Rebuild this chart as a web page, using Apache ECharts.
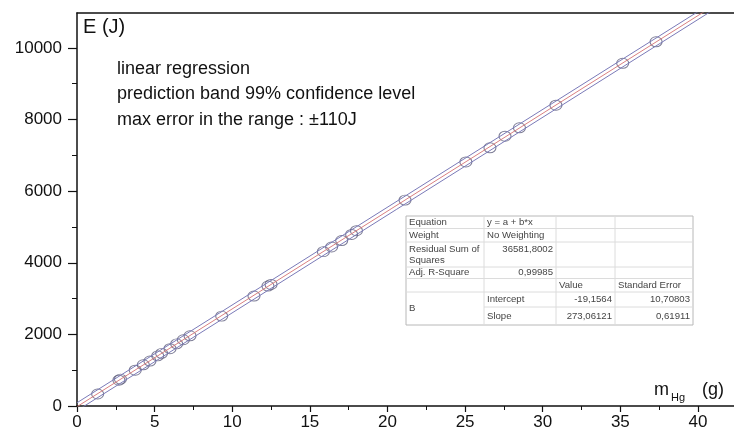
<!DOCTYPE html>
<html>
<head>
<meta charset="utf-8">
<script src="https://cdn.jsdelivr.net/npm/echarts@6/dist/echarts.min.js"></script>
<style>
  html, body { margin: 0; padding: 0; background: #fff; }
  #chart { width: 734px; height: 432px; }
</style>
</head>
<body>
<div id="chart"></div>
<script>
// Measured samples: mercury mass (g) and energy (J)
const massG = [1.33, 2.70, 2.80, 3.75, 4.27, 4.70, 5.20, 5.45, 5.99, 6.42, 6.85, 7.28,
  9.32, 11.40, 12.30, 12.50, 15.87, 16.40, 17.05, 17.69, 18.00, 21.13,
  25.05, 26.60, 27.57, 28.50, 30.85, 35.15, 37.30];
const energyJ = [335, 720, 750, 1000, 1150, 1255, 1400, 1470, 1600, 1735, 1850, 1960,
  2510, 3070, 3350, 3395, 4310, 4440, 4620, 4790, 4895, 5750,
  6815, 7210, 7535, 7770, 8400, 9570, 10170];

// Linear fit y = a + b*x and the prediction band half-width
const fitIntercept = -19.1564;
const fitSlope = 273.06121;
const bandHalfWidth = 110;

// Axis ranges and tick values
const xMax = 42.32;
const yMax = 10975;
const xMajorTicks = [0, 5, 10, 15, 20, 25, 30, 35, 40];
const xMinorTicks = [2.5, 7.5, 12.5, 17.5, 22.5, 27.5, 32.5, 37.5];
const yMajorTicks = [0, 2000, 4000, 6000, 8000, 10000];
const yMinorTicks = [1000, 3000, 5000, 7000, 9000];

// Fit statistics table (Origin style report)
const statLabels = ['Equation', 'Weight', 'Residual Sum of\nSquares', 'Adj. R-Square'];
const statValues = ['y = a + b*x', 'No Weighting', '36581,8002', '0,99985'];
const paramHeaders = ['Value', 'Standard Error'];
const paramNames = ['Intercept', 'Slope'];
const paramValues = [fitIntercept, fitSlope];
const paramErrors = ['10,70803', '0,61911'];

const FONT = 'Liberation Sans, Arial, sans-serif';
const fmtComma = v => String(v).replace('.', ',');

const pts = massG.map((x, i) => [x, energyJ[i]]);
const lineAt = (x, off) => [x, fitIntercept + fitSlope * x + off];
const fitLine = [lineAt(0, 0), lineAt(xMax, 0)];
const upperBand = [lineAt(0, bandHalfWidth), lineAt(xMax, bandHalfWidth)];
const lowerBand = [lineAt(0, -bandHalfWidth), lineAt(xMax, -bandHalfWidth)];

// ---- table graphic ----
const tbl = { cols: [406, 484, 556, 615, 693], rows: [216, 228.5, 242, 267, 278.5, 292, 307, 325] };
const tblEls = [];
tblEls.push({ type: 'rect', shape: { x: tbl.cols[0], y: tbl.rows[0], width: tbl.cols[4] - tbl.cols[0], height: tbl.rows[7] - tbl.rows[0] },
  style: { fill: '#fff', stroke: '#b8b8b8', lineWidth: 1 } });
for (let r = 1; r < tbl.rows.length - 1; r++) {
  const y = tbl.rows[r];
  const startX = (r === 6) ? tbl.cols[1] : tbl.cols[0];
  tblEls.push({ type: 'line', shape: { x1: startX, y1: y, x2: tbl.cols[4], y2: y }, style: { stroke: '#dcdcdc', lineWidth: 1 } });
}
for (let c = 1; c < tbl.cols.length - 1; c++) {
  const x = tbl.cols[c];
  tblEls.push({ type: 'line', shape: { x1: x, y1: tbl.rows[0], x2: x, y2: tbl.rows[7] }, style: { stroke: '#dcdcdc', lineWidth: 1 } });
}
const cellText = (text, x, y, align, vAlign) => ({
  type: 'text', x: x, y: y,
  style: { text: text, font: '9.6px ' + FONT, fill: '#454545', align: align || 'left', verticalAlign: vAlign || 'middle', lineHeight: 11 }
});
const midRow = r => (tbl.rows[r] + tbl.rows[r + 1]) / 2;
statLabels.forEach((t, i) => {
  if (i === 2) tblEls.push(cellText(t, tbl.cols[0] + 3, tbl.rows[2] + 2, 'left', 'top'));
  else tblEls.push(cellText(t, tbl.cols[0] + 3, midRow(i)));
});
statValues.forEach((t, i) => {
  if (i < 2) tblEls.push(cellText(t, tbl.cols[1] + 3, midRow(i)));
  else if (i === 2) tblEls.push(cellText(t, tbl.cols[2] - 3, tbl.rows[2] + 2, 'right', 'top'));
  else tblEls.push(cellText(t, tbl.cols[2] - 3, midRow(i), 'right'));
});
paramHeaders.forEach((t, i) => tblEls.push(cellText(t, tbl.cols[2 + i] + 3, midRow(4))));
tblEls.push(cellText('B', tbl.cols[0] + 3, (tbl.rows[5] + tbl.rows[7]) / 2));
paramNames.forEach((t, i) => {
  tblEls.push(cellText(t, tbl.cols[1] + 3, midRow(5 + i)));
  tblEls.push(cellText(fmtComma(paramValues[i]), tbl.cols[3] - 3, midRow(5 + i), 'right'));
  tblEls.push(cellText(paramErrors[i], tbl.cols[4] - 3, midRow(5 + i), 'right'));
});

const plainNum = v => String(Math.round(v));

const chart = echarts.init(document.getElementById('chart'), null, { renderer: 'canvas' });
chart.setOption({
  animation: false,
  backgroundColor: '#fff',
  grid: { left: 77, right: 0, top: 13, bottom: 26, outerBoundsMode: 'none' },
  xAxis: [
    {
      type: 'value', min: 0, max: xMax, position: 'bottom',
      axisLine: { show: true, lineStyle: { color: '#111', width: 1.5 } },
      axisTick: { show: true, length: 6, lineStyle: { color: '#111', width: 1.2 }, customValues: xMajorTicks },
      axisLabel: { customValues: xMajorTicks, formatter: plainNum, fontSize: 17, fontFamily: FONT, color: '#111', margin: 8 },
      splitLine: { show: false }
    },
    {
      type: 'value', min: 0, max: xMax, position: 'bottom',
      axisLine: { show: false },
      axisTick: { show: true, length: 4, lineStyle: { color: '#111', width: 1 }, customValues: xMinorTicks },
      axisLabel: { show: false },
      splitLine: { show: false }
    },
    {
      type: 'value', min: 0, max: xMax, position: 'top',
      axisLine: { show: true, lineStyle: { color: '#111', width: 1.5 } },
      axisTick: { show: false }, axisLabel: { show: false }, splitLine: { show: false }
    }
  ],
  yAxis: [
    {
      type: 'value', min: 0, max: yMax, position: 'left',
      axisLine: { show: true, lineStyle: { color: '#111', width: 1.5 } },
      axisTick: { show: true, length: 9, lineStyle: { color: '#111', width: 1.2 }, customValues: yMajorTicks },
      axisLabel: { customValues: yMajorTicks, formatter: plainNum, fontSize: 17, fontFamily: FONT, color: '#111', margin: 15 },
      splitLine: { show: false }
    },
    {
      type: 'value', min: 0, max: yMax, position: 'left',
      axisLine: { show: false },
      axisTick: { show: true, length: 5, lineStyle: { color: '#111', width: 1 }, customValues: yMinorTicks },
      axisLabel: { show: false },
      splitLine: { show: false }
    }
  ],
  series: [
    {
      name: 'upper prediction', type: 'line', data: upperBand, showSymbol: false, clip: true,
      lineStyle: { color: '#7a7ab8', width: 1 }, silent: true
    },
    {
      name: 'lower prediction', type: 'line', data: lowerBand, showSymbol: false, clip: true,
      lineStyle: { color: '#7a7ab8', width: 1 }, silent: true
    },
    {
      name: 'linear fit', type: 'line', data: fitLine, showSymbol: false, clip: true,
      lineStyle: { color: '#d98080', width: 1 }, silent: true
    },
    {
      name: 'E', type: 'scatter', data: pts, symbol: 'circle', symbolSize: [12, 10],
      itemStyle: { color: 'rgba(0,0,0,0)', borderColor: '#5c5c7c', borderWidth: 1 }
    }
  ],
  graphic: [
    { type: 'text', left: 83, top: 17, style: { text: 'E (J)', font: '20px ' + FONT, fill: '#111' } },
    { type: 'text', left: 117, top: 56, style: {
        text: 'linear regression\nprediction band 99% confidence level\nmax error in the range : \u00b1110J',
        font: '18px ' + FONT, fill: '#111', lineHeight: 25.5 } },
    { type: 'text', x: 654, y: 399, style: { text: 'm', font: '18px ' + FONT, fill: '#111', verticalAlign: 'bottom' } },
    { type: 'text', x: 671, y: 403, style: { text: 'Hg', font: '11px ' + FONT, fill: '#111', verticalAlign: 'bottom' } },
    { type: 'text', x: 702, y: 399, style: { text: '(g)', font: '18px ' + FONT, fill: '#111', verticalAlign: 'bottom' } },
    { type: 'group', children: tblEls }
  ]
});
</script>
</body>
</html>
